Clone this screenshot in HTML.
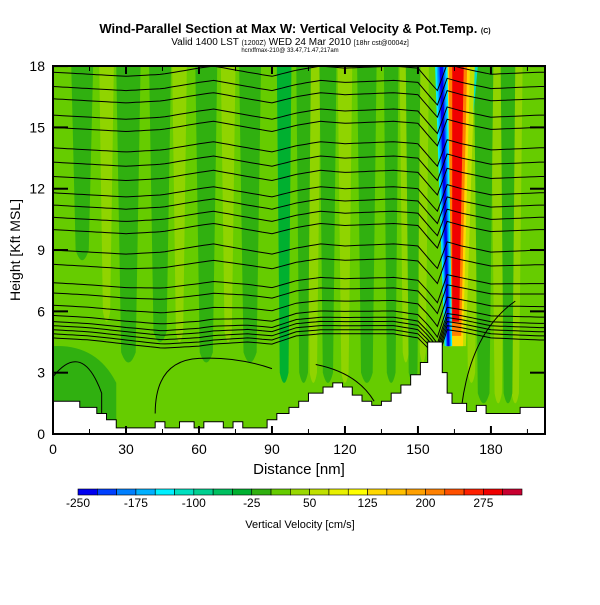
<!DOCTYPE html>
<html><head><meta charset="utf-8"><style>
body{margin:0;background:#fff;width:600px;height:600px;overflow:hidden;font-family:"Liberation Sans",sans-serif}
</style></head><body>
<svg id="chart" width="600" height="600" xmlns="http://www.w3.org/2000/svg" font-family="Liberation Sans, sans-serif">
<text x="295" y="33" text-anchor="middle" font-size="13" font-weight="bold">Wind-Parallel Section at Max W: Vertical Velocity &amp; Pot.Temp. <tspan font-size="7">(C)</tspan></text>
<text x="290" y="45" text-anchor="middle" font-size="10">Valid 1400 LST <tspan font-size="7">(1200Z)</tspan> WED 24 Mar 2010 <tspan font-size="7">[18hr cst@0004z]</tspan></text>
<text x="290" y="52" text-anchor="middle" font-size="6">hcrxffmax-210@ 33.47,71.47,217am</text>
<clipPath id="pc"><rect x="53" y="66" width="492" height="368"/></clipPath>
<g id="plot" clip-path="url(#pc)"></g>
<rect x="53" y="66" width="492" height="368" fill="none" stroke="#000" stroke-width="2"/>
<g id="axes"></g>
<text x="299" y="474" text-anchor="middle" font-size="15">Distance [nm]</text>
<text transform="translate(20,250) rotate(-90)" text-anchor="middle" font-size="14">Height [Kft MSL]</text>
<g id="cbar"></g>
<text x="300" y="528" text-anchor="middle" font-size="11">Vertical Velocity [cm/s]</text>
</svg>
<script>
// ---- data ----
const xTicks=[0,30,60,90,120,150,180];
const yTicks=[0,3,6,9,12,15,18];
const cbarLabels=[-250,-175,-100,-25,50,125,200,275];
const cbarColors=["#0000f0","#0040ff","#0080ff","#00b0ff","#00f0ff","#00e0c0","#00d090","#00c060","#00b030","#30b010","#66cc00","#99d800","#c0e000","#e8f000","#ffff00","#ffd800","#ffc000","#ffa000","#ff8000","#ff5000","#ff2000","#f00000","#c80030"];
// terrain: distance nm, height km
const terrainX=[0,11,18,22,26,42,46,52,58,62,70,74,78,88,92,97,101,105,111,115,119,123,127,131,135,139,143,147,151,154,157,160,162,164,170,174,178,185,192,200];
const terrainH=[1.6,1.3,1.0,0.7,0.3,0.6,0.3,0.6,0.3,0.6,0.3,0.6,0.3,0.7,1.0,1.3,1.6,2.0,2.3,2.5,2.3,1.9,1.6,1.4,1.6,2.0,2.4,2.9,3.5,4.5,4.5,3.0,2.0,1.5,1.1,1.4,1.0,1.0,1.3,1.3];
// light yellow-green updraft stripes: center nm, half-width nm, bottom km
const liteC=[22,52,72,107,120,145,152,172,183,190];
const liteW=[3,3,3,3,3,2.5,2.5,3,3,3];
const liteBot=[6,5,5,3,3,4,4,3,2,2];
// dark-green stripes: center nm, half-width nm, top km, bottom km
const stripeC=[12,31,44,63,81,95,103,113,129,139,148,177,187];
const stripeW=[4.5,5,4.5,4.5,4.5,3,3,3.5,4,3,3,4,3];
const stripeTop=[18,18,18,18,18,18,18,18,18,18,18,18,18];
const stripeBot=[9,4,5,4,4,3,3,3,3,3,3,2,2];
// isentrope heights at left edge (km)
const thetaBase=[17.7,17.0,16.4,15.6,15.0,14.0,13.3,12.6,11.8,11.2,10.6,10.0,9.0,8.3,7.4,6.9,6.3,5.8,5.5,5.3,5.1,4.9,4.7];
const pertX=[0,15,30,45,60,66,80,90,100,110,120,140,150,155,158,162,168,180,200];
const pertH=[0,-0.1,-0.2,-0.1,0.2,0.3,0.0,-0.2,0.1,0.3,0.2,0.3,0.2,-0.5,-0.9,0.4,0.2,-0.1,0.0];
const pertLow=[0,-0.1,-0.3,-0.5,-0.4,-0.3,-0.2,-0.3,0.1,0.2,0.2,0.2,0.0,-0.6,-1.1,0.4,0.3,0.0,-0.1];
// jet bands (drawn in order): nm at top, nm at bottom, half-width nm, bottom km
const jetBandX0=[172,172, 166.5,166.5,166.5,166.5, 159.5,159.5,159.5,159.5];
const jetBandX1=[167,167, 165.5,165.5,165.5,165.5, 162.5,162.5,162.5,162.5];
const jetBandW=[3,1.5, 7,5,3.8,2.4, 2.6,1.9,1.3,0.7];
const jetBot=[10.5,12, 4.3,4.3,4.8,5.5, 4.3,4.3,4.3,4.3];
const jetBandCol=["#00e0c0","#00f0ff","#c0e000","#ffd800","#ff8000","#f00000","#00f0ff","#00b0ff","#0060ff","#0000f0"];
// ---- helpers ----
const X=n=>53+n*2.433, Y=k=>434-k*20.44;
const NS="http://www.w3.org/2000/svg";
function mk(t,p,a){const e=document.createElementNS(NS,t);for(const k in a)e.setAttribute(k,a[k]);p.appendChild(e);return e;}
function interp(xs,ys,x){for(let i=0;i<xs.length-1;i++){if(x<=xs[i+1]){const f=(x-xs[i])/(xs[i+1]-xs[i]);return ys[i]+f*(ys[i+1]-ys[i]);}}return ys[ys.length-1];}
const plot=document.getElementById('plot');
let bg=mk('rect',plot,{x:53,y:66,width:492,height:368,fill:'#66cc00'});


let d1=mk('path',plot,{d:`M${X(0)},${Y(4.3)} Q${X(18)},${Y(4.4)} ${X(26)},${Y(2.5)} L${X(26)},${Y(0)} L${X(0)},${Y(0)}Z`,fill:'#30b010'});


liteC.forEach((c,i)=>{
 const w=liteW[i],b=liteBot[i];
 const p=mk('path',plot,{d:`M${X(c-w)},${Y(18)} L${X(c+w)},${Y(18)} L${X(c+w*0.5)},${Y(b)} Q${X(c)},${Y(b-1)} ${X(c-w*0.5)},${Y(b)}Z`,fill:'#90d400'});
 
 
});
stripeC.forEach((c,i)=>{
 const w=stripeW[i],t=stripeTop[i],b=stripeBot[i];
 const p=mk('path',plot,{d:`M${X(c-w)},${Y(t)} L${X(c+w)},${Y(t)} L${X(c+w*0.6)},${Y(b)} Q${X(c)},${Y(b-1)} ${X(c-w*0.6)},${Y(b)}Z`,fill:(i===5?'#00b030':'#30b010')});
 
 
});
jetBandX0.forEach((x0,i)=>{
 const x1=jetBandX1[i],w=jetBandW[i],bot=jetBot[i];
 const p=mk('path',plot,{d:`M${X(x0-w)},${Y(18.5)} L${X(x0+w)},${Y(18.5)} L${X(x1+w*0.6)},${Y(bot)} L${X(x1-w*0.6)},${Y(bot)}Z`,fill:jetBandCol[i]});
 
 
});
thetaBase.forEach((b,j)=>{
 const lowF=Math.max(0,Math.min(1,(9-b)/4));
 let pts=[];
 for(let n=0;n<=202;n+=2){
  const p=interp(pertX,pertH,n)*(1-lowF)+interp(pertX,pertLow,n)*lowF;
  pts.push(X(n).toFixed(1)+','+Y(b+p).toFixed(1));
 }
 const l=mk('polyline',plot,{points:pts.join(' '),fill:'none',stroke:'#000','stroke-width':1});
 
 
});
[`M${X(0)},${Y(2.8)} Q${X(12)},${Y(4.6)} ${X(20)},${Y(2)} L${X(20)},${Y(0)}`,
 `M${X(42)},${Y(1.0)} Q${X(42)},${Y(3.6)} ${X(60)},${Y(3.7)} Q${X(75)},${Y(3.8)} ${X(90)},${Y(3.2)}`,
 `M${X(108)},${Y(3.4)} Q${X(125)},${Y(3.0)} ${X(132)},${Y(1.6)}`,
 `M${X(168)},${Y(1.4)} Q${X(172)},${Y(5)} ${X(190)},${Y(6.5)}`].forEach(d=>{
 const l=mk('path',plot,{d:d,fill:'none',stroke:'#000','stroke-width':1});
 
 
});
let tp=`M${X(0)},${Y(0)}`;
terrainX.forEach((x,i)=>{tp+=` L${X(x)},${Y(i?terrainH[i-1]:terrainH[0])} L${X(x)},${Y(terrainH[i])}`;});
tp+=` L${X(205)},${Y(terrainH[terrainH.length-1])} L${X(205)},${Y(0)}Z`;
const ter=mk('path',plot,{d:tp,fill:'#fff',stroke:'#000','stroke-width':1});


const ax=document.getElementById('axes');
xTicks.forEach(v=>{
 const t=mk('text',ax,{x:X(v),y:454,'text-anchor':'middle','font-size':14});t.textContent=v;
 
 
 mk('line',ax,{x1:X(v),x2:X(v),y1:434,y2:426,stroke:'#000','stroke-width':2});
 mk('line',ax,{x1:X(v),x2:X(v),y1:66,y2:74,stroke:'#000','stroke-width':2});
});
for(let v=15;v<200;v+=30){mk('line',ax,{x1:X(v),x2:X(v),y1:434,y2:429,stroke:'#000'});mk('line',ax,{x1:X(v),x2:X(v),y1:66,y2:71,stroke:'#000'});}
yTicks.forEach(v=>{
 const t=mk('text',ax,{x:45,y:Y(v)+5,'text-anchor':'end','font-size':14});t.textContent=v;
 
 
 mk('line',ax,{x1:53,x2:68,y1:Y(v),y2:Y(v),stroke:'#000','stroke-width':2});
 mk('line',ax,{x1:545,x2:530,y1:Y(v),y2:Y(v),stroke:'#000','stroke-width':2});
});
const cb=document.getElementById('cbar');
const bw=444/cbarColors.length;
cbarColors.forEach((c,i)=>{
 const r=mk('rect',cb,{x:78+i*bw,y:489,width:bw,height:6,fill:c,stroke:'#000','stroke-width':0.6});
 
 
});
cbarLabels.forEach((v,i)=>{
 const t=mk('text',cb,{x:78+i*3*bw,y:507,'text-anchor':'middle','font-size':12});t.textContent=v;
 
 
});
</script>
</body></html>
